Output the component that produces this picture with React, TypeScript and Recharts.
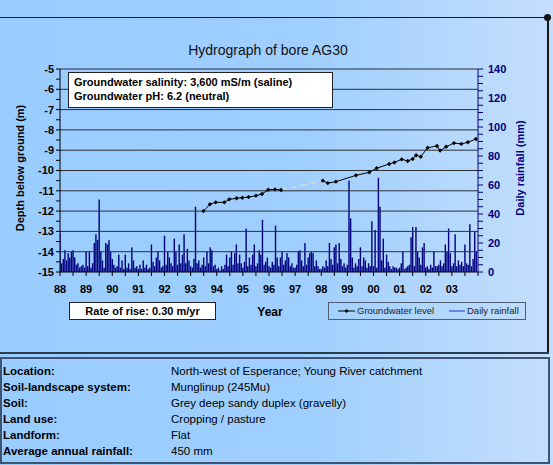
import React from 'react';
import { ComposedChart, Bar, Line, XAxis, YAxis, ReferenceLine } from 'recharts';

// ---------- data ----------
const years = [1988, 1989, 1990, 1991, 1992, 1993, 1994, 1995, 1996, 1997, 1998, 1999, 2000, 2001, 2002, 2003];
const SLOTS_PER_YEAR = 16;

const rain1988 = [27, 6, 9, 15, 8, 13, 10, 14, 15, 10, 5, 6, 3, 4, 5, 3];
const rain1989 = [14, 4, 14, 3, 6, 20, 26, 22, 50, 14, 8, 3, 20, 19, 22, 14];
const rain1990 = [9, 5, 3, 4, 12, 3, 8, 2, 12, 3, 6, 2, 17, 8, 3, 4];
const rain1991 = [2, 5, 2, 8, 3, 5, 2, 3, 19, 7, 4, 10, 14, 8, 3, 4];
const rain1992 = [25, 5, 14, 10, 6, 4, 23, 14, 5, 19, 6, 12, 26, 6, 16, 8];
const rain1993 = [4, 3, 9, 45, 6, 8, 3, 5, 10, 4, 14, 6, 17, 15, 4, 5];
const rain1994 = [2, 3, 1, 4, 2, 5, 12, 4, 10, 14, 5, 13, 19, 6, 12, 6];
const rain1995 = [3, 7, 30, 4, 10, 5, 12, 19, 4, 6, 15, 12, 36, 5, 7, 10];
const rain1996 = [4, 3, 7, 5, 32, 10, 4, 10, 14, 5, 8, 13, 10, 4, 6, 3];
const rain1997 = [3, 5, 14, 15, 8, 4, 20, 5, 10, 13, 14, 13, 4, 8, 4, 2];
const rain1998 = [2, 4, 3, 8, 4, 20, 9, 5, 17, 19, 6, 20, 9, 4, 6, 3];
const rain1999 = [5, 63, 37, 10, 3, 6, 4, 9, 17, 4, 10, 8, 3, 6, 4, 35];
const rain2000 = [4, 29, 3, 65, 45, 8, 23, 3, 12, 7, 4, 2, 4, 3, 3, 2];
const rain2001 = [3, 6, 14, 2, 3, 4, 5, 24, 31, 4, 31, 14, 10, 5, 17, 20];
const rain2002 = [3, 4, 2, 5, 3, 14, 4, 4, 5, 8, 4, 6, 19, 14, 30, 13];
const rain2003 = [4, 6, 26, 4, 8, 5, 7, 4, 19, 6, 5, 33, 4, 9, 28, 14];

const rainByYear = [rain1988, rain1989, rain1990, rain1991, rain1992, rain1993, rain1994, rain1995,
  rain1996, rain1997, rain1998, rain1999, rain2000, rain2001, rain2002, rain2003];

const gwTimes1 = [1993.49, 1993.74, 1993.96, 1994.29, 1994.48, 1994.76, 1994.98, 1995.22, 1995.5, 1995.73, 1995.97, 1996.23, 1996.46];
const gwLevels1 = [-12.0, -11.66, -11.57, -11.57, -11.42, -11.37, -11.34, -11.31, -11.24, -11.16, -10.95, -10.93, -10.96];

const gwTimes2 = [1998.06, 1998.25, 1998.56, 1999.33, 1999.84, 2000.12, 2000.6, 2000.8, 2001.08, 2001.31, 2001.5, 2001.63, 2001.81, 2002.07, 2002.43, 2002.55, 2002.78, 2003.08, 2003.36, 2003.61, 2003.92];
const gwLevels2 = [-10.5, -10.62, -10.55, -10.24, -10.09, -9.89, -9.68, -9.6, -9.45, -9.53, -9.43, -9.25, -9.32, -8.88, -8.79, -9.02, -8.83, -8.65, -8.69, -8.61, -8.45];

const depthGridLevels = [-5, -6, -7, -8, -9, -10, -11, -12, -13, -14];

const infoLabels = ['Location:', 'Soil-landscape system:', 'Soil:', 'Land use:', 'Landform:', 'Average annual rainfall:'];
const infoValues = ['North-west of Esperance; Young River catchment', 'Munglinup (245Mu)', 'Grey deep sandy duplex (gravelly)', 'Cropping / pasture', 'Flat', '450 mm'];

// ---------- derived tables ----------
const rainData = rainByYear.flatMap((arr, yi) =>
  arr.map((v, i) => ({ t: years[yi] + i / SLOTS_PER_YEAR, rain: v }))
);
const gw1 = gwTimes1.map((t, i) => ({ t, level: gwLevels1[i] }));
const gw2 = gwTimes2.map((t, i) => ({ t, level: gwLevels2[i] }));
const gwGap = [gw1[gw1.length - 1], gw2[0]];

const xTicks: number[] = [];
for (let i = 0; i <= 32; i++) xTicks.push(1988 + i * 0.5);
const depthTicks: number[] = [];
for (let i = 0; i <= 20; i++) depthTicks.push(-15 + i * 0.5);
const rainTicks: number[] = [];
for (let i = 0; i <= 28; i++) rainTicks.push(i * 5);

const FONT = "'Liberation Sans', Arial, sans-serif";
const NAVY = '#000080';

const fmtYear = (v: number) => (Number.isInteger(v) && v < 2004 ? String(v).slice(2) : '');
const fmtDepth = (v: number) => (Number.isInteger(v) ? String(v) : '');
const fmtRain = (v: number) => (v % 20 === 0 ? String(v) : '');

const RainBar = (props: any) => {
  const { x, y, width, height } = props;
  if (height == null || isNaN(height)) return null;
  const cx = x + width / 2;
  return <rect x={cx - 0.7} y={y} width={1.4} height={Math.max(height, 0)} fill={NAVY} />;
};

const GwDot = (props: any) => {
  const { cx, cy } = props;
  if (cx == null || cy == null) return null;
  return <path d={`M${cx},${cy - 2.2} L${cx + 2.2},${cy} L${cx},${cy + 2.2} L${cx - 2.2},${cy} Z`} fill="#000" />;
};

const abs = (s: React.CSSProperties): React.CSSProperties => ({ position: 'absolute', ...s });

export default function App() {
  return (
    <div style={abs({ left: 0, top: 0, width: 553, height: 465, overflow: 'hidden', fontFamily: FONT,
      background: 'linear-gradient(to right, #99ccff 0%, #9fcfff 55%, #c4defc 100%)' })}>
      <style>{'body{margin:0}'}</style>

      {/* frame lines */}
      <div style={abs({ left: 0, top: 17, width: 548, height: 1, background: '#1a1a1a' })} />
      <div style={abs({ left: 544, top: 14, width: 7, height: 7, borderRadius: '50%', background: '#111' })} />
      <div style={abs({ left: 547, top: 18, width: 2, height: 336, background: '#1a1a1a' })} />
      <div style={abs({ left: 0, top: 352, width: 549, height: 2, background: '#2a3a50' })} />

      {/* title */}
      <div style={abs({ left: 268, top: 50, transform: 'translate(-50%,-50%)', fontSize: 14, color: '#111', whiteSpace: 'nowrap' })}>
        Hydrograph of bore AG30
      </div>

      <div style={abs({ left: 0, top: 0 })}>
        <ComposedChart width={553} height={352} data={rainData}
          margin={{ top: 69, right: 25, left: 10, bottom: 50 }}>
          <XAxis dataKey="t" type="number" domain={[1988, 2004]} ticks={xTicks} interval={0}
            tickFormatter={fmtYear} allowDataOverflow height={30} tickSize={4} tickMargin={9}
            axisLine={{ stroke: '#000' }} tickLine={{ stroke: '#000' }}
            tick={{ fill: '#000', fontSize: 11, fontWeight: 'bold', fontFamily: FONT }} />
          <YAxis yAxisId="depth" type="number" domain={[-15, -5]} ticks={depthTicks} interval={0}
            tickFormatter={fmtDepth} width={50} tickSize={4} tickMargin={2} allowDataOverflow
            axisLine={{ stroke: '#000' }} tickLine={{ stroke: '#000' }}
            tick={{ fill: '#000', fontSize: 11, fontWeight: 'bold', fontFamily: FONT }} />
          <YAxis yAxisId="rain" orientation="right" type="number" domain={[0, 140]} ticks={rainTicks} interval={0}
            tickFormatter={fmtRain} width={50} tickSize={5} tickMargin={5} allowDataOverflow
            axisLine={{ stroke: NAVY }} tickLine={{ stroke: NAVY }}
            tick={{ fill: NAVY, fontSize: 11, fontWeight: 'bold', fontFamily: FONT }} />
          <Bar yAxisId="rain" dataKey="rain" fill={NAVY} barSize={2} shape={RainBar} isAnimationActive={false} />
          {depthGridLevels.map((v) => (
            <ReferenceLine key={v} yAxisId="depth" y={v} stroke="#2b2f36" strokeWidth={1} ifOverflow="extendDomain" />
          ))}
          <Line yAxisId="depth" data={gwGap} dataKey="level" stroke="#e4d8c6" strokeWidth={1.2}
            strokeDasharray="6 4" dot={false} isAnimationActive={false} />
          <Line yAxisId="depth" data={gw1} dataKey="level" stroke="#000" strokeWidth={1}
            dot={GwDot} isAnimationActive={false} />
          <Line yAxisId="depth" data={gw2} dataKey="level" stroke="#000" strokeWidth={1}
            dot={GwDot} isAnimationActive={false} />
        </ComposedChart>
      </div>

      {/* axis titles */}
      <div style={abs({ left: 20, top: 168, transform: 'translate(-50%,-50%) rotate(-90deg)', fontSize: 11, fontWeight: 'bold', color: '#000', whiteSpace: 'nowrap' })}>
        Depth below ground (m)
      </div>
      <div style={abs({ left: 520, top: 168, transform: 'translate(-50%,-50%) rotate(-90deg)', fontSize: 11, fontWeight: 'bold', color: NAVY, whiteSpace: 'nowrap' })}>
        Daily rainfall (mm)
      </div>

      {/* salinity box */}
      <div style={abs({ left: 68, top: 72, width: 258, height: 32, background: '#fff', border: '1px solid #222',
        fontSize: 11, fontWeight: 'bold', color: '#000', lineHeight: '14px', padding: '2px 0 0 5px', boxSizing: 'content-box' })}>
        <div>Groundwater salinity: 3,600 mS/m (saline)</div>
        <div>Groundwater pH: 6.2 (neutral)</div>
      </div>

      {/* rate box */}
      <div style={abs({ left: 69, top: 302, width: 145, height: 16, background: '#fff', border: '1px solid #222',
        fontSize: 11, fontWeight: 'bold', color: '#000', lineHeight: '16px', textAlign: 'center' })}>
        Rate of rise: 0.30 m/yr
      </div>

      <div style={abs({ left: 270, top: 312, transform: 'translate(-50%,-50%)', fontSize: 12, fontWeight: 'bold', color: '#000' })}>
        Year
      </div>

      {/* legend */}
      <div style={abs({ left: 328, top: 302, width: 196, height: 16, border: '1px solid #4f5e72' })}>
        <svg width={196} height={16} style={{ position: 'absolute', left: 0, top: 0 }}>
          <line x1={9} y1={8} x2={26} y2={8} stroke="#000" strokeWidth={1} />
          <path d="M17.5,6 L19.5,8 L17.5,10 L15.5,8 Z" fill="#000" />
          <line x1={120} y1={8} x2={136} y2={8} stroke="#1f2fd0" strokeWidth={1} />
        </svg>
        <div style={abs({ left: 28, top: 0, fontSize: 9.5, lineHeight: '16px', color: '#222', whiteSpace: 'nowrap' })}>Groundwater level</div>
        <div style={abs({ left: 138, top: 0, fontSize: 9.5, lineHeight: '16px', color: '#222', whiteSpace: 'nowrap' })}>Daily rainfall</div>
      </div>

      {/* info box */}
      <div style={abs({ left: 0, top: 357, width: 546, height: 103, border: '2px solid #3e5470' })}>
        {infoLabels.map((l, i) => (
          <div key={l} style={abs({ left: 1, top: 5 + i * 16, fontSize: 11.5, fontWeight: 'bold', color: '#000', lineHeight: '14px', whiteSpace: 'nowrap' })}>{l}</div>
        ))}
        {infoValues.map((v, i) => (
          <div key={v} style={abs({ left: 169, top: 5 + i * 16, fontSize: 11.5, color: '#000', lineHeight: '14px', whiteSpace: 'nowrap' })}>{v}</div>
        ))}
      </div>
    </div>
  );
}
